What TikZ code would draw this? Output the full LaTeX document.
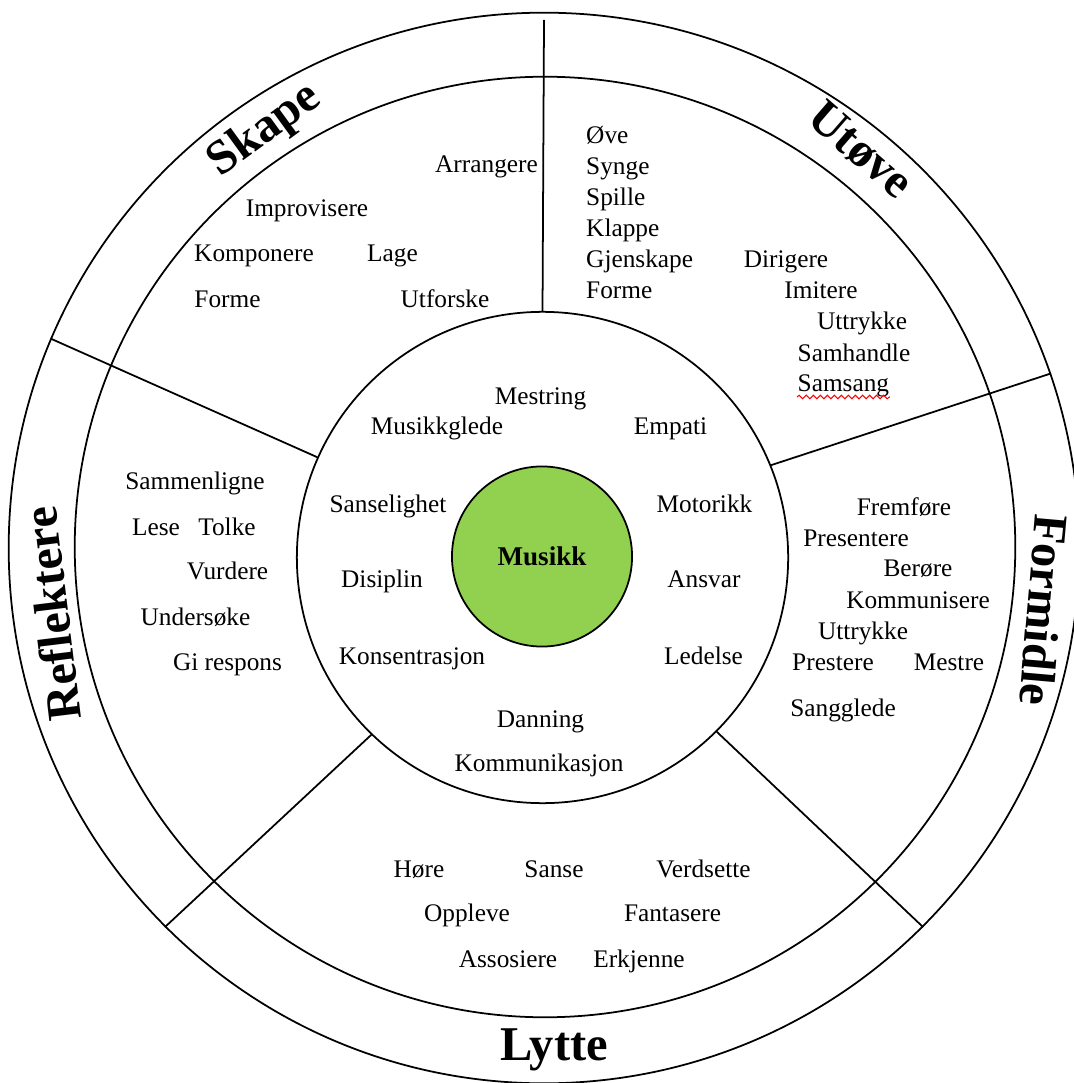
\documentclass[tikz,border=0pt]{standalone}
\usepackage{fontspec}
\setmainfont{Liberation Serif}
\usetikzlibrary{decorations.pathmorphing}
\definecolor{mlime}{HTML}{92D050}
\tikzstyle{ring} = [circle, draw, inner sep=0pt, line width=0.5pt]
\tikzstyle{kjerne} = [circle, draw, fill=mlime, inner sep=0pt, minimum size=1.8cm, line width=0.5pt, font=\fontsize{7.7}{9}\selectfont\bfseries]
\tikzstyle{ord} = [anchor=base, inner sep=0pt, font=\fontsize{7.2}{9}\selectfont]
\tikzstyle{venstre} = [ord, anchor=base west]
\tikzstyle{tittel} = [inner sep=0pt, font=\fontsize{13.8}{16}\selectfont\bfseries]
\tikzstyle{skille} = [line width=0.5pt]
\tikzstyle{stave} = [red, line width=0.3pt, decorate, decoration={snake, amplitude=0.5pt, segment length=2pt}]

\begin{document}
\begin{tikzpicture}[x=0.01cm, y=-0.01cm]
  \useasboundingbox (0,0) rectangle (1073,1083);
  % ringene
  \node (ytre) [ring, minimum size=10.7cm] at (544,548) {};
  \node (midt) [ring, minimum size=9.4cm] at (545,547) {};
  \node (indre) [ring, minimum size=4.91cm] at (542.5,557.5) {};
  \node (musikk) [kjerne] at (542,556.5) {Musikk};
  % skillelinjer
  \draw [skille] (indre.north) -- ([yshift=-0.08cm]ytre.north);
  \draw [skille] (indre.156.4) -- (ytre.157.7);
  \draw [skille] (indre.22.7) -- (ytre.19.5);
  \draw [skille] (indre.226.6) -- (ytre.225.1);
  \draw [skille] (indre.315.2) -- (ytre.315);
  % titler
  \node (skape) [tittel, rotate=36] at (265,131) {Skape};
  \node (utove) [tittel, rotate=-41] at (861,150) {Utøve};
  \node (refl) [tittel, rotate=97] at (52,614) {Reflektere};
  \node (formidle) [tittel, rotate=-95] at (1044,610) {Formidle};
  \node (lytte) [tittel, anchor=base] at (554,1060) {Lytte};
  % skape
  \node (arr) [ord] at (486.5,173) {Arrangere};
  \node (impr) [ord] at (307,217) {Improvisere};
  \node (komp) [ord] at (254,262) {Komponere};
  \node (lage) [ord] at (392.5,262) {Lage};
  \node (forme) [ord] at (227.5,308) {Forme};
  \node (utf) [ord] at (445,308) {Utforske};
  % utove
  \node (ove) [venstre] at (585.5,144) {Øve};
  \node (synge) [venstre] at (585.5,175) {Synge};
  \node (spille) [venstre] at (585.5,206) {Spille};
  \node (klappe) [venstre] at (585.5,237) {Klappe};
  \node (gjensk) [venstre] at (585.5,268) {Gjenskape};
  \node (forme2) [venstre] at (585.5,299) {Forme};
  \node (dir) [ord] at (786,268) {Dirigere};
  \node (imit) [ord] at (821,299) {Imitere};
  \node (uttr) [ord] at (862,330) {Uttrykke};
  \node (samh) [venstre] at (797,362) {Samhandle};
  \node (samsang) [venstre] at (797,392) {Samsang};
  \draw [stave] ([yshift=-0.05cm]samsang.base west) -- ([yshift=-0.05cm]samsang.base east);
  % kjerneverdier
  \node (mestr) [ord] at (540.5,405) {Mestring};
  \node (glede) [ord] at (437,435) {Musikkglede};
  \node (empati) [ord] at (670.5,435) {Empati};
  \node (sans) [ord] at (388,512) {Sanselighet};
  \node (motor) [ord] at (704.5,512) {Motorikk};
  \node (disip) [ord] at (382,587) {Disiplin};
  \node (ansvar) [ord] at (704,587) {Ansvar};
  \node (kons) [ord] at (412,664) {Konsentrasjon};
  \node (ledelse) [ord] at (703.5,664) {Ledelse};
  \node (danning) [ord] at (540.5,727) {Danning};
  \node (komm) [ord] at (539,771) {Kommunikasjon};
  % reflektere
  \node (samml) [ord] at (195,490) {Sammenligne};
  \node (lese) [ord] at (156,535) {Lese};
  \node (tolke) [ord] at (227,535) {Tolke};
  \node (vurd) [ord] at (227.5,579) {Vurdere};
  \node (unders) [ord] at (195.5,625) {Undersøke};
  \node (girespons) [ord] at (227.5,670) {Gi respons};
  % formidle
  \node (fremf) [ord] at (904,515) {Fremføre};
  \node (pres) [ord] at (856,546) {Presentere};
  \node (berore) [ord] at (918,577) {Berøre};
  \node (kommun) [ord] at (918,608) {Kommunisere};
  \node (uttr2) [ord] at (863,639) {Uttrykke};
  \node (prest) [ord] at (833,670) {Prestere};
  \node (mestre) [ord] at (949,670) {Mestre};
  \node (sanggl) [ord] at (843,716) {Sangglede};
  % lytte
  \node (hore) [ord] at (419,877) {Høre};
  \node (sanse) [ord] at (554,877) {Sanse};
  \node (verds) [ord] at (703.5,877) {Verdsette};
  \node (oppl) [ord] at (467,921) {Oppleve};
  \node (fant) [ord] at (672.5,921) {Fantasere};
  \node (assos) [ord] at (508,967) {Assosiere};
  \node (erkj) [ord] at (639,967) {Erkjenne};
\end{tikzpicture}
\end{document}
